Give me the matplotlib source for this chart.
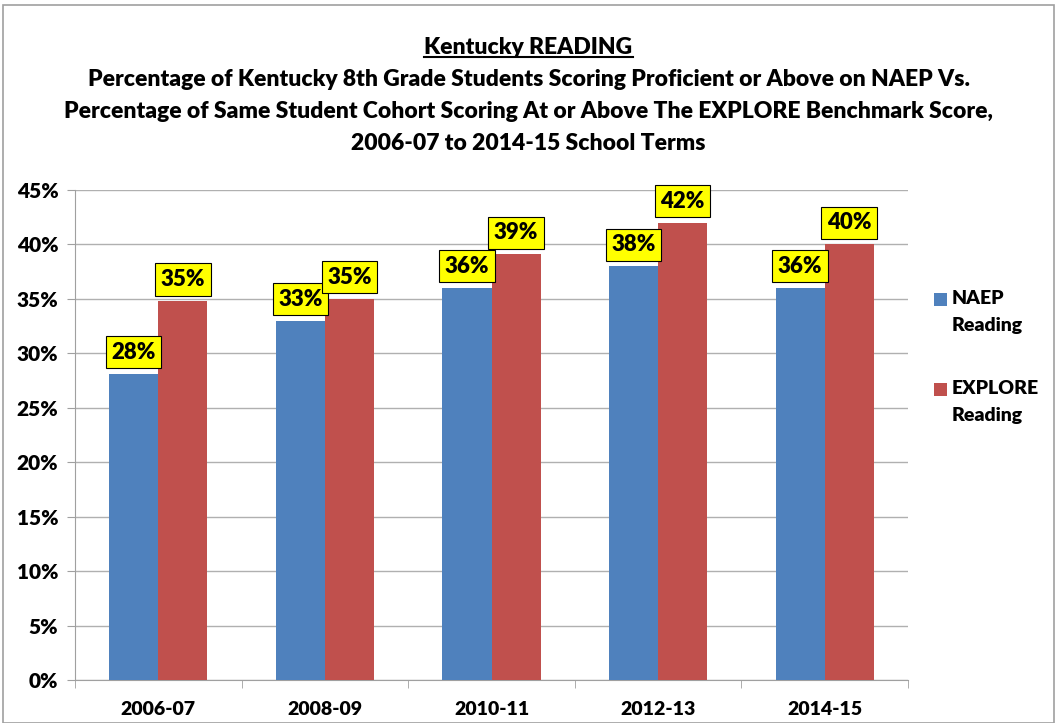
import numpy as np
import matplotlib.pyplot as plt
from matplotlib.lines import Line2D
from matplotlib.patches import Rectangle
from matplotlib import font_manager

# data
years = ['2006-07', '2008-09', '2010-11', '2012-13', '2014-15']
naep = [28.1, 33.0, 36.0, 38.0, 36.0]
explore = [34.8, 35.0, 39.1, 42.0, 40.0]
naep_lbl = ['28%', '33%', '36%', '38%', '36%']
explore_lbl = ['35%', '35%', '39%', '42%', '40%']
series = ['NAEP\nReading', 'EXPLORE\nReading']

names = sorted(set(f.name for f in font_manager.fontManager.ttflist))
fam = 'Liberation Sans Narrow' if 'Liberation Sans Narrow' in names else 'Lato'
plt.rcParams['font.family'] = [fam, 'DejaVu Sans']
W = 'heavy'

blue = '#4f81bd'
red = '#c0504d'

fig = plt.figure(figsize=(10.57, 7.23), dpi=100)
ax = fig.add_axes([75/1057, 1-680/723, (908-75)/1057, (680-190)/723])

x = np.arange(len(years))
w = 0.295
b1 = ax.bar(x - w/2, naep, w, color=blue, label=series[0], zorder=3)
b2 = ax.bar(x + w/2, explore, w, color=red, label=series[1], zorder=3)

for bars, labs in [(b1, naep_lbl), (b2, explore_lbl)]:
    for r, s in zip(bars, labs):
        ax.annotate(s, (r.get_x() + r.get_width()/2, r.get_height()),
                    xytext=(0, 8), textcoords='offset points', ha='center', va='bottom',
                    fontsize=16, fontweight=W, zorder=5,
                    bbox=dict(boxstyle='square,pad=0.25', fc='yellow', ec='black', lw=0.8))

ax.set_ylim(0, 45)
ax.set_xlim(-0.5, 4.5)
ax.set_yticks(np.arange(0, 46, 5))
ax.set_yticklabels([f'{v}%' for v in range(0, 46, 5)], fontsize=15, fontweight=W)
ax.set_xticks(x)
ax.set_xticklabels(years, fontsize=14, fontweight=W)
ax.set_xticks(np.arange(-0.5, 5, 1), minor=True)
ax.tick_params(axis='x', which='major', length=0, pad=15)
ax.tick_params(axis='x', which='minor', length=6, color='#a0a0a0')
ax.tick_params(axis='y', length=6, color='#a0a0a0', pad=6)
ax.grid(axis='y', color='#b0b0b0', lw=1, zorder=0)
for s in ['top', 'right']:
    ax.spines[s].set_visible(False)
for s in ['left', 'bottom']:
    ax.spines[s].set_color('#a0a0a0')

# legend drawn by hand so the swatch sits beside the first line
for i, (lab, col) in enumerate(zip(series, [blue, red])):
    ytop = 1 - (293 + i * 90) / 723
    fig.add_artist(Rectangle((934/1057, ytop - 13/723), 13/1057, 13/723,
                             transform=fig.transFigure, fc=col, ec='none'))
    fig.text(952/1057, ytop + 3/723, lab, ha='left', va='top', fontsize=14,
             fontweight=W, linespacing=1.75)

tk = dict(ha='center', va='center', fontsize=16.5, fontweight=W)
t0 = fig.text(0.5, 1-47/723, 'Kentucky READING', **tk)
fig.text(0.5, 1-80/723, 'Percentage of Kentucky 8th Grade Students Scoring Proficient or Above on NAEP Vs.', **tk)
fig.text(0.5, 1-112/723, 'Percentage of Same Student Cohort Scoring At or Above The EXPLORE Benchmark Score,', **tk)
fig.text(0.5, 1-143/723, '2006-07 to 2014-15 School Terms', **tk)

# underline the first title line
fig.canvas.draw()
bb = t0.get_window_extent().transformed(fig.transFigure.inverted())
fig.add_artist(Line2D([bb.x0, bb.x1], [bb.y0 + 0.001, bb.y0 + 0.001], color='black', lw=1.5))

# outer frame
fig.add_artist(Rectangle((3/1057, 0), 1 - 6/1057, 1 - 5/723, transform=fig.transFigure,
                         fill=False, ec='#a0a0a0', lw=1.2))

fig.savefig('out.png', dpi=100)
